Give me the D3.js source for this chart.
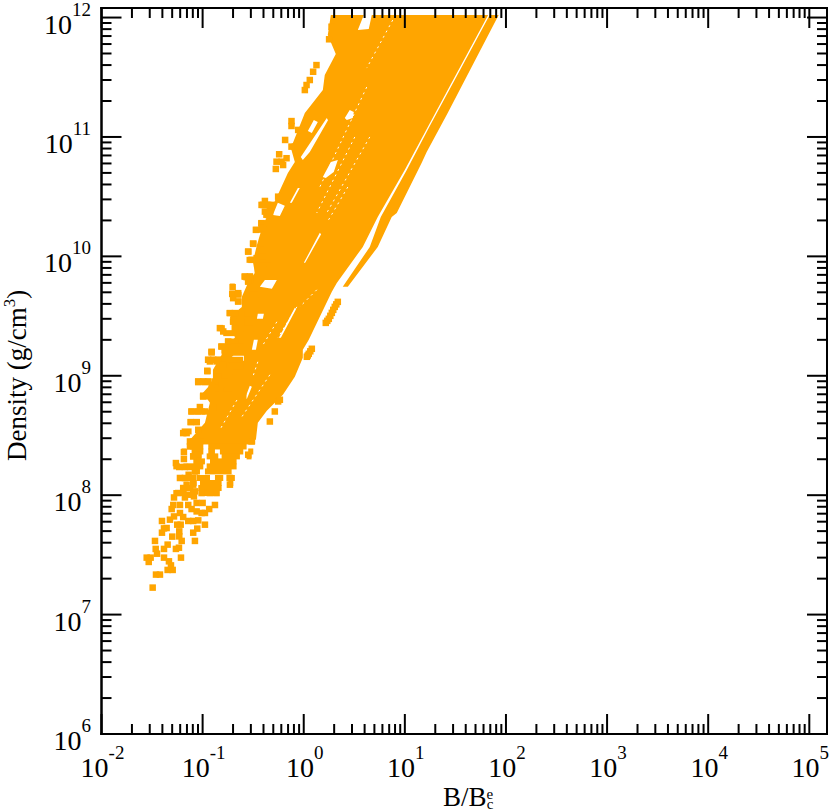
<!DOCTYPE html>
<html>
<head>
<meta charset="utf-8">
<script src="https://cdn.jsdelivr.net/npm/d3@7/dist/d3.min.js"></script>
<style>
  html,body{margin:0;padding:0;background:#fff;}
  text{font-family:"Liberation Serif","Times New Roman",serif;fill:#000;}
</style>
</head>
<body>
<svg id="chart" width="830" height="812"></svg>
<script>
// all values are log10(B/Bc) , log10(density)
const majorX = [-2,-1,0,1,2,3,4,5];
const majorY = [6,7,8,9,10,11,12];
const minorSteps = [2,3,4,5,6,7,8,9];

// merged part of the cloud, outline
const mainBand = [[.673,12.021],[1.824,12.021],[1.627,11.711],[1.424,11.393],[1.222,11.075],[.999,10.724],[.732,10.330],[.584,10.079],[.327,9.778],[.278,9.703],[.050,9.301],[-.009,9.217],[-.009,9.151],[-.088,8.992],[-.206,8.841],[-.365,8.707],[-.454,8.607],[-.473,8.464],[-1.125,8.464],[-.977,8.607],[-.928,8.774],[-.997,8.858],[-.898,8.950],[-.898,9.050],[-.829,9.151],[-.750,9.259],[-.681,9.318],[-.730,9.494],[-.612,9.577],[-.612,9.661],[-.552,9.778],[-.483,9.862],[-.503,9.954],[-.463,10.096],[-.404,10.263],[-.266,10.498],[-.157,10.698],[-.088,10.791],[-.127,10.908],[.011,11.201],[.189,11.393],[.208,11.519],[.317,11.694],[.238,11.854],[.268,12.021],[.594,12.021],[.535,11.896],[.643,11.904]];
const rightBand = [[1.839,12.021],[1.928,12.021],[1.681,11.619],[1.424,11.201],[1.216,10.874],[1.167,10.783],[.920,10.364],[.870,10.330],[.732,10.079],[.436,9.745],[.386,9.745],[.653,10.079],[.762,10.330],[1.019,10.724],[1.236,11.075],[1.439,11.393],[1.642,11.711]];

// empty pockets inside mainBand
const pockets = [
  [[.406,11.159],[.455,11.226],[.495,11.209],[.485,11.159],[.426,11.142]],
  [[.228,11.159],[.240,11.140],[.060,10.874],[-.009,10.807],[-.029,10.832]],
  [[.041,11.050],[.100,11.142],[.139,11.125],[.080,11.033]],
  [[.189,10.665],[.268,10.791],[.337,10.807],[.297,10.707],[.218,10.657]],
  [[-.305,10.347],[-.256,10.448],[-.187,10.423],[-.236,10.339]],
  [[-.058,10.573],[-.137,10.448],[-.118,10.448],[-.039,10.573]],
  [[-.434,9.745],[-.384,9.803],[-.266,9.803],[-.315,9.728]],
  [[-.088,9.569],[-.075,9.560],[-.226,9.318],[-.246,9.318]],
  [[.159,10.197],[.172,10.185],[.014,9.946],[.001,9.946]],
  [[-.454,9.519],[-.394,9.519],[-.404,9.477],[-.463,9.477]],
  [[-.493,9.301],[-.454,9.301],[-.473,9.217],[-.513,9.217]],
  [[-.710,9.167],[-.592,9.167],[-.592,9.126],[-.710,9.126]],
  [[-.533,8.916],[-.513,8.908],[-.562,8.807],[-.582,8.807]]
];

// dotted gaps between neighbouring tracks
const gapLines = [
  [[.880,11.979],[.623,11.577]],
  [[.623,11.418],[.159,10.581]],
  [[.505,11.000],[.129,10.364]],
  [[.653,11.000],[.228,10.364]],
  [[.436,10.581],[.228,10.280]],
  [[.129,9.720],[-.039,9.577]],
  [[-.068,9.577],[-.256,9.318]],
  [[-.454,9.117],[-.503,8.992]],
  [[-.266,9.452],[-.414,9.243]],
  [[-.631,8.841],[-.829,8.548]],
  [[-.335,9.008],[-.631,8.632]]
];

// runs of touching points: density, then B ranges
const pointRuns = [
  [10.431,[[-.434,-.319]]],
  [10.347,[[-.401,-.302]]],
  [10.278,[[-.451,-.368]]],
  [10.222,[[-.500,-.385]]],
  [10.109,[[-.533,-.467]]],
  [10.040,[[-.582,-.517],[-.451,-.385]]],
  [9.971,[[-.566,-.319]]],
  [9.887,[[-.484,-.303]]],
  [9.831,[[-.615,-.500]]],
  [9.789,[[-.582,-.500]]],
  [9.747,[[-.730,-.681]]],
  [9.678,[[-.730,-.615],[-.533,-.450]]],
  [9.622,[[-.681,-.615]]],
  [9.525,[[-.763,-.648],[-.582,-.500]]],
  [9.454,[[-.730,-.631],[-.582,-.500]]],
  [9.399,[[-.846,-.780],[-.714,-.648],[-.599,-.500]]],
  [9.357,[[-.796,-.664]]],
  [9.287,[[-.780,-.648]]],
  [9.245,[[-.846,-.599]]],
  [9.203,[[-.944,-.878],[-.813,-.664]]],
  [9.134,[[-.977,-.813],[-.747,-.600]]],
  [9.078,[[-.829,-.763],[-.730,-.600]]],
  [9.036,[[-.984,-.921],[-.829,-.700]]],
  [8.952,[[-1.076,-.911],[-.878,-.750]]],
  [8.897,[[-.878,-.829],[-.796,-.700]]],
  [8.827,[[-1.027,-.566]]],
  [8.701,[[-1.142,-.977]]],
  [8.612,[[-1.148,-1.026]]],
  [8.534,[[-1.207,-1.109],[-1.059,-.960]]],
  [8.450,[[-1.125,-.480]]],
  [8.408,[[-1.125,-.993],[-.944,-.565]]],
  [8.366,[[-1.207,-1.158],[-1.109,-.993],[-.944,-.878],[-.829,-.598],[-.549,-.499]]],
  [8.325,[[-1.125,-1.010],[-.960,-.845],[-.812,-.631],[-.565,-.516]]],
  [8.283,[[-1.092,-.977],[-.927,-.664]]],
  [8.241,[[-1.290,-1.224],[-1.191,-.993],[-.960,-.664]]],
  [8.199,[[-1.092,-1.026],[-.977,-.713]]],
  [8.144,[[-1.240,-1.092],[-1.059,-.927],[-.878,-.796],[-.763,-.681]]],
  [8.102,[[-1.125,-1.059],[-1.026,-.812],[-.746,-.697]]],
  [8.060,[[-1.207,-1.092],[-1.043,-.812]]],
  [8.018,[[-1.290,-1.158],[-1.125,-1.059],[-1.026,-.845]]]
];

// single points, lower tail
const tailPoints = [[-1.494,7.226],[-1.461,7.335],[-1.422,7.335],[-1.346,7.374],[-1.296,7.374],[-1.313,7.412],[-1.333,7.446],[-1.382,7.477],[-1.214,7.477],[-1.553,7.477],[-1.514,7.477],[-1.533,7.441],[-1.451,7.510],[-1.464,7.550],[-1.382,7.550],[-1.346,7.586],[-1.264,7.550],[-1.234,7.560],[-1.471,7.617],[-1.207,7.617],[-1.231,7.655],[-1.076,7.617],[-1.300,7.653],[-1.402,7.686],[-1.382,7.722],[-1.356,7.725],[-1.231,7.697],[-1.093,7.686],[-1.053,7.720],[-.977,7.753],[-1.402,7.784],[-1.251,7.753],[-1.217,7.753],[-1.323,7.795],[-1.283,7.822],[-1.224,7.851],[-1.192,7.817],[-1.142,7.784],[-1.093,7.784],[-1.043,7.789],[-1.010,7.851],[-.977,7.851],[-.935,7.884],[-.878,7.918],[-1.306,7.884],[-1.290,7.918],[-1.224,7.918],[-1.142,7.918],[-1.109,7.884],[-1.059,7.864],[-1.059,7.935],[-1.000,7.935],[-1.283,7.981],[-1.241,8.018],[-1.175,7.981],[-1.142,8.004],[-1.076,8.032],[-1.086,7.990],[-1.192,8.060],[-1.158,8.088],[-1.138,8.171],[-1.224,8.144],[-1.175,8.144],[-1.093,8.088],[-1.093,8.144]];

// single points, left fringe going up
const fringePoints = [[-1.264,8.269],[-1.231,8.236],[-1.175,8.236],[-1.125,8.236],[-1.076,8.199],[-1.185,8.303],[-1.185,8.361],[-1.093,8.325],[-1.043,8.339],[-1.125,8.450],[-1.125,8.408],[-1.076,8.450],[-1.027,8.450],[-1.158,8.520],[-1.192,8.520],[-1.043,8.548],[-.977,8.548],[-1.118,8.612],[-1.059,8.612],[-1.109,8.701],[-1.043,8.701],[-1.027,8.738],[-.977,8.701],[-.895,8.730],[-.994,8.833],[-1.043,8.947],[-.977,8.947],[-.954,9.042],[-.878,8.952],[-.846,8.994],[-.928,9.120],[-.862,9.120],[-.911,9.195],[-.945,9.134],[-.895,9.134],[-.846,9.134],[-1.043,8.952],[-.994,8.952],[-.945,8.952],[-.994,8.827],[-.911,8.925],[-.812,8.925],[-.812,9.245],[-.780,9.217],[-.829,9.399],[-.796,9.371],[-.747,9.287],[-.730,9.525],[-.681,9.525],[-.698,9.454],[-.703,9.742],[-.707,9.686],[-.698,9.650],[-.648,9.692],[-.648,9.622],[-.565,9.826],[-.533,9.803],[-.796,9.092],[-.730,9.190],[-.681,9.217],[-.401,10.431],[-.352,10.431],[-.335,10.389],[-.352,10.347],[-.417,10.278],[-.473,10.222],[-.417,10.236],[-.500,10.105],[-.549,10.040],[-.516,9.971],[-.466,9.985],[-.417,10.054],[-.401,9.998],[-.451,9.887],[-.401,9.887],[-.582,9.831],[-.533,9.831],[-.549,9.789],[-.466,9.776],[-.253,10.500],[-.121,11.133],[-.121,11.092],[-.184,10.975],[-.243,10.855],[-.269,10.793],[-.219,10.793],[-.276,10.732],[-.204,10.765],[-.170,10.822],[-.384,10.464],[-.417,10.431],[-.368,10.431],[-.318,10.431],[-.384,10.375],[-.335,10.361],[-.055,11.059],[-.088,10.919],[-.121,10.919],[.126,11.602],[.093,11.546],[.060,11.477],[.028,11.435],[.011,11.393],[.251,11.818],[.275,11.923]];

// single points, right side
const rightPoints = [[-.335,8.617],[-.286,8.701],[-.253,8.785],[-.236,8.799],[-.549,8.339],[-.516,8.450],[-.730,8.144],[-.730,8.088],[-1.010,8.018],[-.928,8.018],[-.862,8.018],[.337,9.619],[.322,9.598],[.307,9.577],[.292,9.552],[.278,9.527],[.263,9.502],[.248,9.477],[.233,9.460],[.218,9.443],[.080,9.226],[.065,9.205],[.050,9.184],[.040,9.170],[.031,9.159]];

const orange = "#ffa500";
const markSize = 6.5;
const svg = d3.select("#chart");

let x = d3.scaleLog().domain([1e-2,Math.pow(10,5.175)]).range([101.5,827]);
let y = d3.scaleLog().domain([1e6,Math.pow(10,12.08)]).range([734,8]);
const px = d => x(Math.pow(10,d[0]));
const py = d => y(Math.pow(10,d[1]));

// cloud
let outline = d3.line().x(px).y(py);
let closed = pts => outline(pts)+"Z";
svg.append("path")
   .attr("d",closed(mainBand)+pockets.map(closed).join(""))
   .attr("fill",orange)
   .attr("fill-rule","evenodd");
svg.append("path")
   .attr("d",closed(rightBand))
   .attr("fill",orange);

svg.selectAll("path.gap").data(gapLines).enter().append("path")
   .attr("class","gap")
   .attr("d",outline)
   .attr("fill","none")
   .attr("stroke","#fff")
   .attr("stroke-width",1)
   .attr("stroke-dasharray","2 4");

let runs = [];
pointRuns.forEach(([rho,ranges])=>ranges.forEach(r=>runs.push({rho:rho,from:r[0],to:r[1]})));
svg.selectAll("rect.run").data(runs).enter().append("rect")
   .attr("class","run")
   .attr("x",d=>px([d.from,d.rho]))
   .attr("y",d=>py([d.from,d.rho])-3)
   .attr("width",d=>px([d.to,d.rho])-px([d.from,d.rho]))
   .attr("height",6)
   .attr("fill",orange);

svg.selectAll("rect.mark").data(tailPoints.concat(fringePoints,rightPoints)).enter().append("rect")
   .attr("class","mark")
   .attr("x",d=>px(d)-markSize/2)
   .attr("y",d=>py(d)-markSize/2)
   .attr("width",markSize)
   .attr("height",markSize)
   .attr("fill",orange);

// axes, ticks point inward on all four sides
const majorVals = ex => ex.map(e=>Math.pow(10,e));
const minorVals = (ex,scale) => {
  let out = [];
  ex.forEach(e=>minorSteps.forEach(s=>out.push(s*Math.pow(10,e))));
  let [a,b] = d3.extent(scale.domain());
  return out.filter(v=>v>a&&v<b);
};

function drawAxis(maker,scale,ex,tx,ty,sign){
  [[majorVals(ex),20],[minorVals(ex,scale),10]].forEach(([vals,len])=>{
    let g = svg.append("g").attr("transform","translate("+tx+","+ty+")");
    g.call(maker(scale).tickValues(vals).tickFormat("").tickSize(sign*len).tickSizeOuter(0).offset(0));
    g.selectAll("line,path").attr("stroke","#000").attr("stroke-width",2);
    g.selectAll("path").attr("stroke-linecap","square");
  });
}
drawAxis(d3.axisBottom,x,majorX,0,734,-1);
drawAxis(d3.axisTop,x,majorX,0,8,-1);
drawAxis(d3.axisLeft,y,majorY,101.5,0,-1);
drawAxis(d3.axisRight,y,majorY,827,0,-1);

// tick labels
function power(sel,ex){
  sel.append("tspan").attr("font-size",28).text("10");
  sel.append("tspan").attr("font-size",19).attr("dy",-18).text(ex);
}
majorX.forEach(e=>{
  svg.append("text")
     .attr("x",x(Math.pow(10,e))+1)
     .attr("y",777)
     .attr("text-anchor","middle")
     .call(power,e);
});
majorY.forEach(e=>{
  svg.append("text")
     .attr("x",91)
     .attr("y",y(Math.pow(10,e))+16)
     .attr("text-anchor","end")
     .call(power,e);
});

// axis titles
let xTitle = svg.append("text").attr("x",443).attr("y",806).attr("font-size",27);
xTitle.append("tspan").text("B/B");
xTitle.append("tspan").attr("font-size",15).attr("dy",-7).text("e");
xTitle.append("tspan").attr("font-size",15).attr("dx",-6.5).attr("dy",10).text("c");

let yTitle = svg.append("text")
   .attr("transform","translate(26,461) rotate(-90)")
   .attr("font-size",27);
yTitle.append("tspan").text("Density (g/cm");
yTitle.append("tspan").attr("font-size",17).attr("dy",-11).text("3");
yTitle.append("tspan").attr("dy",11).text(")");
</script>
</body>
</html>
